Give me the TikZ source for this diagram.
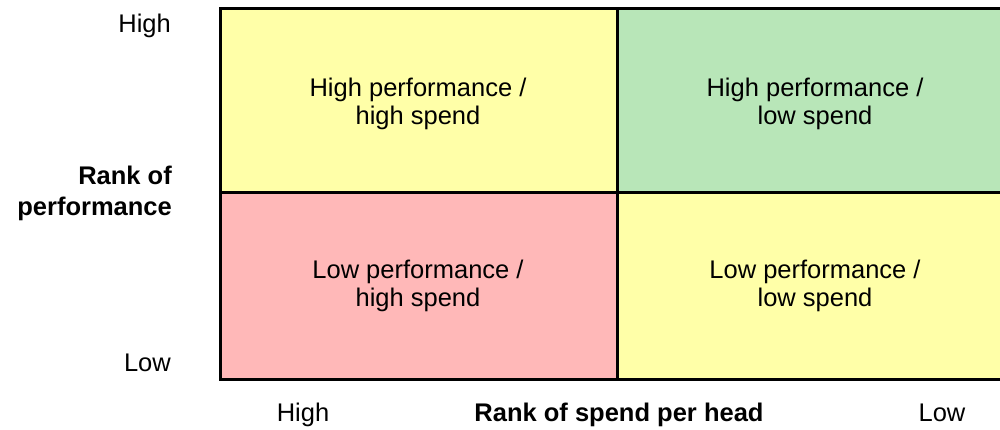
\documentclass[tikz,border=0pt]{standalone}
\usepackage{fontspec}
\setmainfont{Liberation Sans}
\definecolor{qyellow}{RGB}{255,255,168}
\definecolor{qgreen}{RGB}{184,230,184}
\definecolor{qpink}{RGB}{255,184,184}
\begin{document}
\begin{tikzpicture}[x=1pt,y=-1pt,
  lbl/.style={inner sep=0pt,font=\fontsize{25.5}{28}\selectfont},
  axlbl/.style={lbl,font=\fontsize{25.5}{28}\selectfont\bfseries},
  grid/.style={line width=3pt,black}]
\clip (0,0) rectangle (1000,430);
\useasboundingbox (0,0) rectangle (1000,430);
% quadrants
\fill[qyellow] (220.5,8.5) rectangle (617.5,192.5);
\fill[qgreen] (617.5,8.5) rectangle (1015,192.5);
\fill[qpink] (220.5,192.5) rectangle (617.5,379);
\fill[qyellow] (617.5,192.5) rectangle (1015,379);
\draw[grid] (1015,8.5) -- (220.5,8.5) -- (220.5,379) -- (1015,379);
\draw[grid] (617.5,8.5) -- (617.5,379);
\draw[grid] (220.5,192.5) -- (1015,192.5);
% quadrant texts
\node[lbl,anchor=base] (hh1) at (418,97) {High performance /};
\node[lbl,anchor=base] (hh2) at (418,125) {high spend};
\node[lbl,anchor=base] (hl1) at (815,97) {High performance /};
\node[lbl,anchor=base] (hl2) at (815,125) {low spend};
\node[lbl,anchor=base] (lh1) at (418,278) {Low performance /};
\node[lbl,anchor=base] (lh2) at (418,306) {high spend};
\node[lbl,anchor=base] (ll1) at (815,278) {Low performance /};
\node[lbl,anchor=base] (ll2) at (815,306) {low spend};
% y axis
\node[lbl,anchor=base east] (yhigh) at (171,33) {High};
\node[lbl,anchor=base east] (ylow) at (171,371) {Low};
\node[axlbl,anchor=base east] (yr1) at (172,185) {Rank of};
\node[axlbl,anchor=base east] (yr2) at (172,215) {performance};
% x axis
\node[lbl,anchor=base] (xhigh) at (303,421) {High};
\node[lbl,anchor=base] (xlow) at (942,421) {Low};
\node[axlbl,anchor=base] (xr) at (619,421) {Rank of spend per head};
\end{tikzpicture}
\end{document}
